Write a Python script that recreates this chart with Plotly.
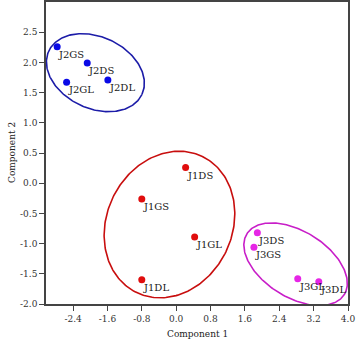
import numpy as np
import plotly.graph_objects as go

# ---- data ----
j1_names = ["J1DS", "J1GS", "J1GL", "J1DL"]
j1_x = [0.22, -0.80, 0.43, -0.80]
j1_y = [0.26, -0.26, -0.89, -1.60]

j2_names = ["J2GS", "J2DS", "J2GL", "J2DL"]
j2_x = [-2.77, -2.07, -2.55, -1.59]
j2_y = [2.26, 1.99, 1.67, 1.71]

j3_names = ["J3DS", "J3GS", "J3GL", "J3DL"]
j3_x = [1.89, 1.81, 2.83, 3.32]
j3_y = [-0.82, -1.06, -1.58, -1.63]

x_ticks = [-2.4, -1.6, -0.8, 0.0, 0.8, 1.6, 2.4, 3.2, 4.0]
y_ticks = [-2.0, -1.5, -1.0, -0.5, 0.0, 0.5, 1.0, 1.5, 2.0, 2.5]

# ---- layout geometry ----
W, H = 358, 341
ML, MR, MT, MB = 46, 10, 2, 37
XR = [-3.03, 4.0]
YR = [-2.0, 3.0]
pw, ph = W - ML - MR, H - MT - MB
ppx = pw / (XR[1] - XR[0])
ppy = ph / (YR[1] - YR[0])

# ellipse outlines: center (data), semi-axes (screen px), rotation (deg, screen)
ellipses = [
    dict(cx=-1.88, cy=1.83, a=51.4, b=35.8, ang=24.9, color="#1c1ca8"),
    dict(cx=-0.156, cy=-0.684, a=75.6, b=62.7, ang=-64.2, color="#c80e0e"),
    dict(cx=2.78, cy=-1.341, a=57.4, b=33.0, ang=31.9, color="#c81ec8"),
]

font = "DejaVu Serif, Liberation Serif, serif"

fig = go.Figure()
t = np.linspace(0, 2 * np.pi, 241)
for e in ellipses:
    th = np.deg2rad(e["ang"])
    dx = e["a"] * np.cos(t) * np.cos(th) - e["b"] * np.sin(t) * np.sin(th)
    dy = e["a"] * np.cos(t) * np.sin(th) + e["b"] * np.sin(t) * np.cos(th)
    fig.add_trace(go.Scatter(
        x=e["cx"] + dx / ppx, y=e["cy"] - dy / ppy, mode="lines",
        line=dict(color=e["color"], width=1.6), hoverinfo="skip", showlegend=False))

annotations = []
for xs, ys, names, col in [(j1_x, j1_y, j1_names, "#e00d0d"),
                           (j2_x, j2_y, j2_names, "#0a0ae6"),
                           (j3_x, j3_y, j3_names, "#e626e6")]:
    fig.add_trace(go.Scatter(
        x=xs, y=ys, mode="markers", text=names,
        marker=dict(color=col, size=7), showlegend=False, cliponaxis=False))
    for x, y, n in zip(xs, ys, names):
        annotations.append(dict(
            x=x, y=y, xref="x", yref="y", text=n, showarrow=False,
            xanchor="left", yanchor="top", xshift=-1, yshift=0,
            font=dict(family=font, size=10, color="#1a1a1a")))

annotations += [
    dict(text="Component 1", xref="paper", yref="paper", x=0.5, y=0,
         yshift=-30, xanchor="center", yanchor="middle", showarrow=False,
         font=dict(family=font, size=9, color="#222222")),
    dict(text="Component 2", xref="paper", yref="paper", x=0, y=0.5,
         xshift=-34, xanchor="center", yanchor="middle", textangle=-90,
         showarrow=False, font=dict(family=font, size=9, color="#222222")),
]

fig.update_layout(
    width=W, height=H, margin=dict(l=ML, r=MR, t=MT, b=MB, autoexpand=False),
    paper_bgcolor="white", plot_bgcolor="white",
    font=dict(family=font, size=9, color="#333333"),
    annotations=annotations,
)
fig.update_xaxes(
    range=XR, tickvals=x_ticks, ticktext=[f"{v:.1f}" for v in x_ticks],
    showgrid=False, zeroline=False, showline=True, linecolor="#444444", linewidth=1.5,
    mirror=True, ticks="outside", ticklen=5, tickcolor="#444444", automargin=False,
    tickfont=dict(family=font, size=9, color="#333333"),
)
fig.update_yaxes(
    range=YR, tickvals=y_ticks, ticktext=[f"{v:.1f}" for v in y_ticks],
    showgrid=False, zeroline=False, showline=True, linecolor="#444444", linewidth=1.5,
    mirror=True, ticks="outside", ticklen=5, tickcolor="#444444", automargin=False,
    tickfont=dict(family=font, size=9, color="#333333"),
)

fig.write_html("out.html", config={"displayModeBar": False},
               post_script="document.body.style.margin='0';")
